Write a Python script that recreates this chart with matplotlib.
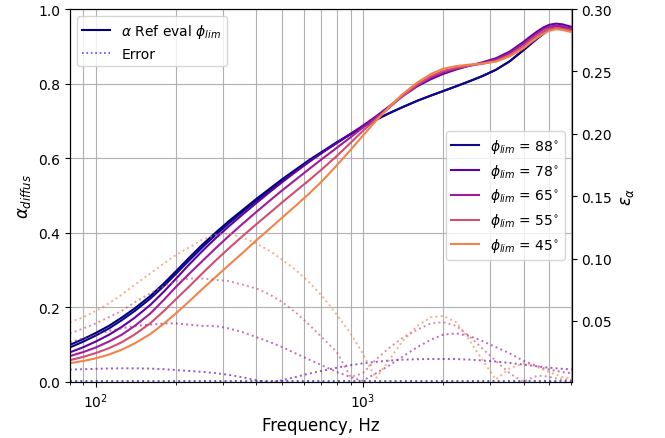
import numpy as np
import matplotlib
matplotlib.use('Agg')
import matplotlib.pyplot as plt
from matplotlib.lines import Line2D

# frequencies (Hz)
freq = [80, 90, 100, 112, 125, 140, 160, 180, 200, 224,
        250, 280, 315, 355, 400, 450, 500, 560, 630, 710,
        800, 900, 1000, 1120, 1250, 1400, 1600, 1800, 2000, 2240,
        2500, 2800, 3150, 3550, 4000, 4250, 4500, 4750, 5000, 5300,
        5600, 6070]

phi_labels = ['88', '78', '65', '55', '45']

# absorption coefficient
alpha_ref = [0.099, 0.115, 0.131, 0.150, 0.172, 0.197, 0.230, 0.264, 0.297, 0.333,
             0.367, 0.399, 0.431, 0.461, 0.491, 0.519, 0.544, 0.569, 0.595, 0.619,
             0.643, 0.665, 0.685, 0.703, 0.72, 0.736, 0.754, 0.768, 0.78, 0.793,
             0.806, 0.82, 0.837, 0.86, 0.89, 0.906, 0.921, 0.934, 0.947, 0.951,
             0.95, 0.944]
alpha_88 = [0.092, 0.108, 0.124, 0.143, 0.165, 0.19, 0.223, 0.257, 0.29, 0.326,
            0.36, 0.393, 0.425, 0.456, 0.486, 0.515, 0.54, 0.566, 0.592, 0.617,
            0.641, 0.664, 0.684, 0.703, 0.72, 0.736, 0.754, 0.768, 0.78, 0.793,
            0.806, 0.82, 0.837, 0.86, 0.89, 0.906, 0.921, 0.934, 0.947, 0.951,
            0.95, 0.944]
alpha_78 = [0.079, 0.093, 0.108, 0.126, 0.147, 0.172, 0.206, 0.242, 0.277, 0.315,
            0.35, 0.384, 0.417, 0.449, 0.48, 0.51, 0.536, 0.563, 0.59, 0.616,
            0.641, 0.665, 0.687, 0.712, 0.738, 0.765, 0.793, 0.812, 0.826, 0.838,
            0.848, 0.857, 0.868, 0.886, 0.912, 0.927, 0.94, 0.951, 0.958, 0.961,
            0.959, 0.952]
alpha_65 = [0.069, 0.08, 0.092, 0.108, 0.126, 0.15, 0.183, 0.22, 0.255, 0.29,
            0.323, 0.357, 0.391, 0.424, 0.456, 0.487, 0.514, 0.542, 0.571, 0.6,
            0.628, 0.656, 0.682, 0.709, 0.736, 0.765, 0.795, 0.816, 0.83, 0.84,
            0.848, 0.855, 0.865, 0.882, 0.907, 0.922, 0.935, 0.946, 0.953, 0.956,
            0.954, 0.947]
alpha_55 = [0.058, 0.067, 0.077, 0.09, 0.106, 0.127, 0.157, 0.19, 0.222, 0.256,
            0.29, 0.324, 0.358, 0.391, 0.423, 0.454, 0.482, 0.511, 0.541, 0.573,
            0.606, 0.641, 0.673, 0.704, 0.734, 0.765, 0.798, 0.82, 0.834, 0.843,
            0.848, 0.853, 0.861, 0.877, 0.901, 0.916, 0.929, 0.94, 0.947, 0.95,
            0.948, 0.942]
alpha_45 = [0.05, 0.056, 0.063, 0.073, 0.086, 0.103, 0.128, 0.156, 0.184, 0.216,
            0.248, 0.28, 0.313, 0.346, 0.38, 0.412, 0.441, 0.472, 0.505, 0.541,
            0.581, 0.622, 0.66, 0.7, 0.736, 0.77, 0.803, 0.826, 0.84, 0.847,
            0.851, 0.854, 0.859, 0.873, 0.895, 0.91, 0.923, 0.934, 0.942, 0.946,
            0.944, 0.938]

# error (right axis)
err_88 = [0.0015] * len(freq)
err_78 = [0.011, 0.0113, 0.0116, 0.0119, 0.012, 0.012, 0.0118, 0.0113, 0.0106, 0.0099,
          0.0092, 0.0082, 0.0068, 0.0048, 0.0025, 0.0005, 0.0025, 0.005, 0.0078, 0.0102,
          0.0125, 0.0145, 0.016, 0.0172, 0.0182, 0.0189, 0.0193, 0.0195, 0.0195, 0.0194,
          0.019, 0.0183, 0.0175, 0.0163, 0.015, 0.0143, 0.0136, 0.013, 0.0125, 0.012,
          0.0116, 0.011]
err_65 = [0.033, 0.036, 0.039, 0.042, 0.044, 0.046, 0.047, 0.048, 0.048, 0.047,
          0.046, 0.046, 0.044, 0.041, 0.037, 0.033, 0.029, 0.024, 0.019, 0.014,
          0.009, 0.005, 0.002, 0.008, 0.014, 0.021, 0.029, 0.035, 0.039, 0.04,
          0.038, 0.034, 0.029, 0.024, 0.018, 0.016, 0.014, 0.012, 0.011, 0.01,
          0.009, 0.008]
err_55 = [0.040, 0.044, 0.048, 0.053, 0.058, 0.065, 0.072, 0.078, 0.082, 0.084,
          0.084, 0.083, 0.082, 0.079, 0.076, 0.071, 0.065, 0.057, 0.047, 0.036,
          0.025, 0.005, 0.008, 0.019, 0.028, 0.036, 0.043, 0.048, 0.049, 0.046,
          0.038, 0.028, 0.018, 0.008, 0.001, 0.004, 0.006, 0.006, 0.005, 0.004,
          0.003, 0.003]
err_45 = [0.049, 0.053, 0.058, 0.064, 0.071, 0.079, 0.088, 0.096, 0.103, 0.109,
          0.115, 0.119, 0.12, 0.117, 0.112, 0.106, 0.099, 0.091, 0.081, 0.069,
          0.055, 0.04, 0.024, 0.004, 0.018, 0.033, 0.046, 0.053, 0.054, 0.049,
          0.035, 0.019, 0.003, 0.012, 0.016, 0.015, 0.013, 0.011, 0.009, 0.007,
          0.005, 0.004]

alphas = [alpha_88, alpha_78, alpha_65, alpha_55, alpha_45]
errors = [err_88, err_78, err_65, err_55, err_45]
colors = plt.cm.plasma(np.linspace(0, 0.7, 5))

fig = plt.figure(figsize=(6.65, 4.39), dpi=100)
ax = fig.add_axes([0.105, 0.128, 0.755, 0.849])
ax2 = ax.twinx()

ax.plot(freq, alpha_ref, color='navy', lw=1.5)
for a, c in zip(alphas, colors):
    ax.plot(freq, a, color=c, lw=1.5)

lines = []
for e, c, lab in zip(errors, colors, phi_labels):
    ax2.plot(freq, e, color=c, ls=':', lw=1.4, alpha=0.65)
    lines.append(Line2D([], [], color=c, lw=1.5, label=r'$\phi_{lim}$ = ' + lab + r'$^{\circ}$'))

ax.set_xscale('log')
ax.set_xlim(80, 6070)
ax.set_ylim(0, 1)
ax2.set_ylim(0.0012, 0.3)
ax2.set_yticks([0.05, 0.10, 0.15, 0.20, 0.25, 0.30])

ax.grid(True, which='both', axis='x', color='#b0b0b0', lw=0.8)
ax.grid(True, which='major', axis='y', color='#b0b0b0', lw=0.8)

ax.set_xlabel('Frequency, Hz', fontsize=12)
ax.set_ylabel(r'$\alpha_{diffus}$', fontsize=12)
ax2.set_ylabel(r'$\varepsilon_{\alpha}$', fontsize=12)

h1 = [Line2D([], [], color='navy', lw=1.5, label=r'$\alpha$ Ref eval $\phi_{lim}$'),
      Line2D([], [], color='blue', ls=':', lw=1.2, alpha=0.7, label='Error')]
leg1 = ax2.legend(handles=h1, loc='upper left')
ax2.add_artist(leg1)
ax2.legend(handles=lines, loc='center right')

fig.savefig('out.png', dpi=100)
